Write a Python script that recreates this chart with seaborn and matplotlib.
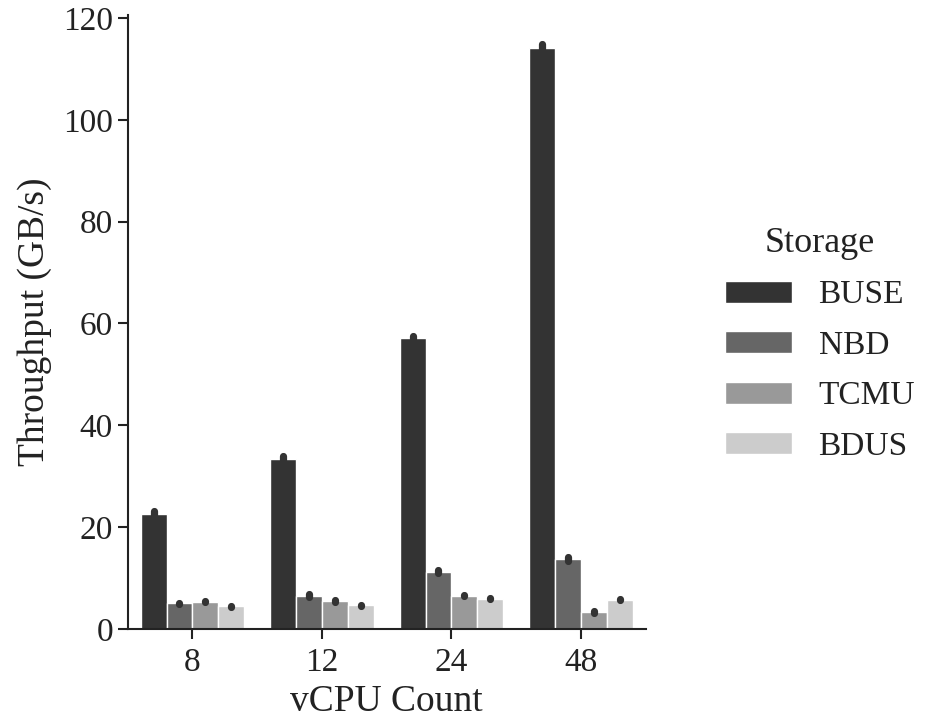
import pandas as pd
import seaborn as sns
import matplotlib.pyplot as plt

# vCPU counts on the x axis
vcpus = ["8", "12", "24", "48"]
storages = ["BUSE", "NBD", "TCMU", "BDUS"]

# low / high of each run pair (GB/s)
buse_lo = [22.0, 32.7, 56.9, 113.4]
buse_hi = [23.2, 33.9, 57.5, 114.8]
nbd_lo = [5.0, 6.2, 11.0, 13.4]
nbd_hi = [5.2, 6.9, 11.5, 14.1]
tcmu_lo = [5.3, 5.3, 6.4, 3.2]
tcmu_hi = [5.5, 5.6, 6.6, 3.5]
bdus_lo = [4.3, 4.6, 5.8, 5.6]
bdus_hi = [4.6, 4.8, 6.0, 5.8]

palette = ["#333333", "#666666", "#999999", "#cccccc"]

rows = []
for name, lo, hi in zip(storages,
                        [buse_lo, nbd_lo, tcmu_lo, bdus_lo],
                        [buse_hi, nbd_hi, tcmu_hi, bdus_hi]):
    for v, a, b in zip(vcpus, lo, hi):
        rows.append({"vCPU Count": v, "Storage": name, "Throughput": a})
        rows.append({"vCPU Count": v, "Storage": name, "Throughput": b})
df = pd.DataFrame(rows)

sns.set_theme(style="ticks")
plt.rcParams["font.family"] = ["Liberation Serif", "DejaVu Serif"]
plt.rcParams["font.size"] = 23
plt.rcParams["axes.labelsize"] = 27
plt.rcParams["xtick.labelsize"] = 24
plt.rcParams["ytick.labelsize"] = 24
plt.rcParams["legend.fontsize"] = 24
plt.rcParams["legend.title_fontsize"] = 26
plt.rcParams["axes.linewidth"] = 1.5
plt.rcParams["xtick.major.width"] = 1.5
plt.rcParams["ytick.major.width"] = 1.5
plt.rcParams["xtick.major.size"] = 7
plt.rcParams["ytick.major.size"] = 7
plt.rcParams["xtick.major.pad"] = 6
plt.rcParams["text.color"] = "#222222"
plt.rcParams["axes.labelcolor"] = "#222222"
plt.rcParams["xtick.color"] = "#222222"
plt.rcParams["ytick.color"] = "#222222"
plt.rcParams["axes.edgecolor"] = "#222222"

fig, ax = plt.subplots(figsize=(9.25, 7.25), dpi=100)
fig.subplots_adjust(left=0.138, right=0.698, bottom=0.1324, top=0.979)

sns.barplot(data=df, x="vCPU Count", y="Throughput", hue="Storage",
            order=vcpus, hue_order=storages, palette=palette,
            errorbar=("pi", 100), ax=ax, saturation=1,
            err_kws={"color": "#333333", "linewidth": 5.2,
                     "solid_capstyle": "round"})

ax.set_ylabel("Throughput (GB/s)", labelpad=8)
ax.set_xlabel("vCPU Count", labelpad=5)
ax.set_yticks([0, 20, 40, 60, 80, 100, 120])
sns.despine(ax=ax)

sns.move_legend(ax, "center left", bbox_to_anchor=(0.766, 0.525),
                bbox_transform=fig.transFigure, frameon=False,
                title="Storage", handlelength=2.0, handleheight=0.65,
                labelspacing=0.6, handletextpad=0.8, borderpad=0)
leg = ax.get_legend()
leg.set_bbox_to_anchor((0.766, 0.525), transform=fig.transFigure)

fig.savefig("out.png", dpi=100)
